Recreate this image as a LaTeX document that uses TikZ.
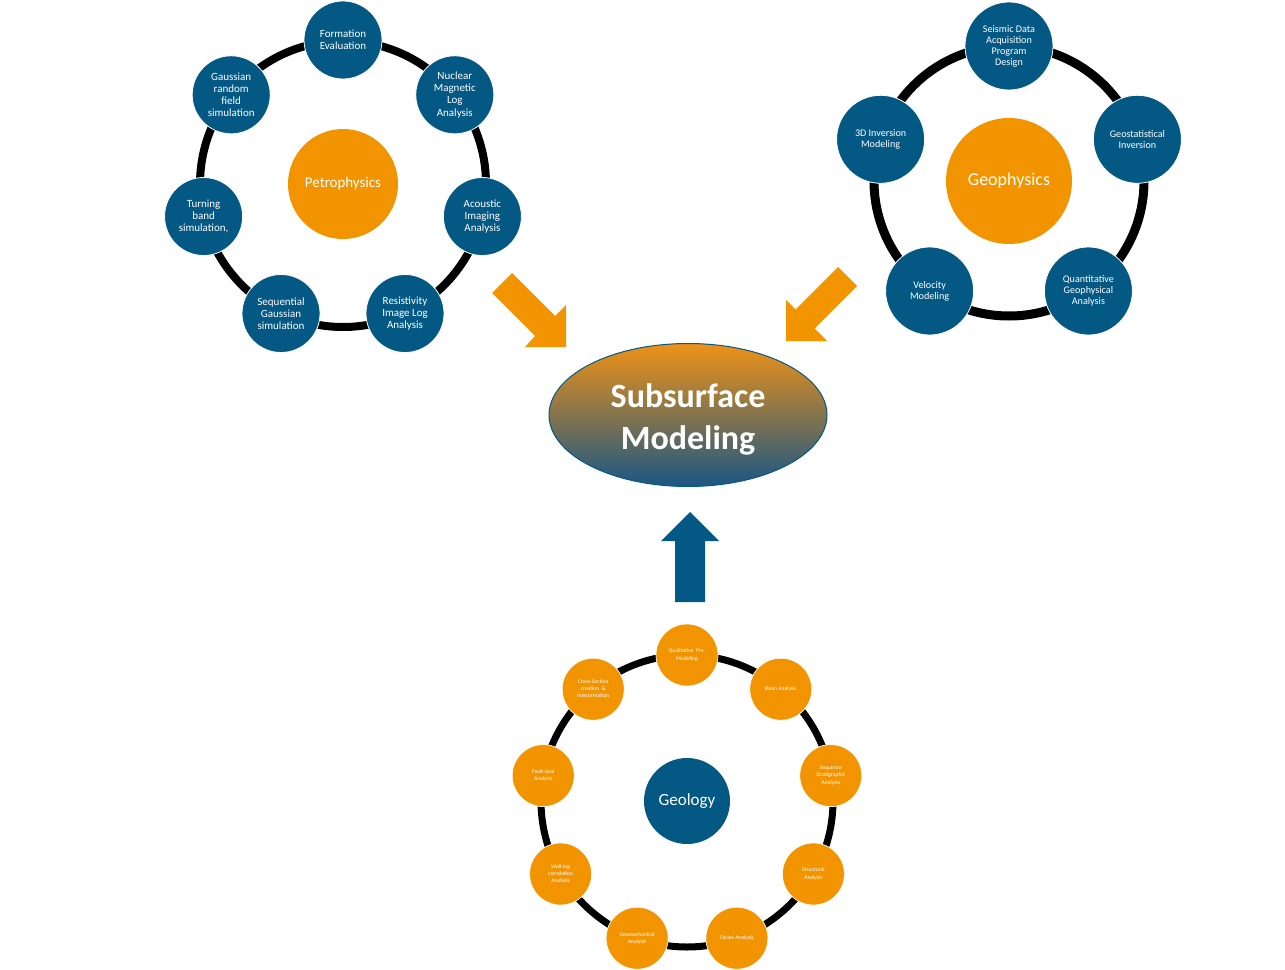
\documentclass[tikz,border=0pt]{standalone}
\usepackage{fontspec}
\setmainfont{Carlito}
\usetikzlibrary{shapes.geometric}
\definecolor{bluec}{RGB}{4,88,132}
\definecolor{orangec}{RGB}{242,148,0}
\definecolor{gradtop}{RGB}{238,146,22}
\definecolor{gradmid}{RGB}{200,126,88}
\definecolor{gradbot}{RGB}{26,86,132}
\begin{document}
\begin{tikzpicture}[x=0.75pt,y=-0.75pt,
  petnode/.style={circle, fill=bluec, draw=white, line width=0.6pt, text=white, minimum size=58.5pt, inner sep=0pt, align=center, font=\fontsize{8.25}{9.2}\selectfont},
  geonode/.style={circle, fill=bluec, draw=white, line width=0.6pt, text=white, minimum size=66pt, inner sep=0pt, align=center, font=\fontsize{7.6}{8.2}\selectfont},
  gelnode/.style={circle, fill=orangec, draw=white, line width=0.5pt, text=white, minimum size=46.5pt, inner sep=0pt, align=center, font=\fontsize{4.2}{5.3}\selectfont},
  hubor/.style={circle, fill=orangec, text=white, inner sep=0pt, align=center},
  hubbl/.style={circle, fill=bluec, text=white, inner sep=0pt, align=center}
]
\useasboundingbox (0,0) rectangle (1285,970);

% ---------- Petrophysics ----------
\coordinate (pc) at (343,184);
\draw[line width=6pt] (pc) circle [radius=143];
\node[hubor, minimum size=82.5pt, font=\fontsize{11.2}{13}\selectfont] (pet) at (pc) {Petrophysics};
\node[petnode] (p1) at (343,40) {Formation\\Evaluation};
\node[petnode] (p2) at (454.8,94.8) {Nuclear\\Magnetic\\Log\\Analysis};
\node[petnode] (p3) at (482.4,216.5) {Acoustic\\Imaging\\Analysis};
\node[petnode] (p4) at (405.0,313.5) {Resistivity\\Image Log\\Analysis};
\node[petnode] (p5) at (281.0,313.5) {Sequential\\Gaussian\\simulation};
\node[petnode] (p6) at (203.6,216.5) {Turning\\band\\simulation,};
\node[petnode] (p7) at (231.2,94.8) {Gaussian\\random\\field\\simulation};

% ---------- Geophysics ----------
\coordinate (gc) at (1009,181);
\draw[line width=6.75pt] (gc) circle [radius=135];
\node[hubor, minimum size=94.5pt, font=\fontsize{13.5}{15}\selectfont] (geo) at (gc) {Geophysics};
\node[geonode] (g1) at (1009,46) {Seismic Data\\Acquisition\\Program\\Design};
\node[geonode] (g2) at (1137.4,139.3) {Geostatistical\\Inversion};
\node[geonode] (g3) at (1088.4,291) {Quantitative\\Geophysical\\Analysis};
\node[geonode] (g4) at (929.6,291) {Velocity\\Modeling};
\node[geonode] (g5) at (880.6,139.3) {3D Inversion\\Modeling};

% ---------- Geology ----------
\coordinate (lc) at (687,801);
\draw[line width=5.25pt] (lc) circle [radius=146];
\node[hubbl, minimum size=64.5pt, font=\fontsize{12.8}{14}\selectfont] (gel) at (lc) {Geology};
\node[gelnode] (l1) at (687,655) {Qualitative\ \ Pre-\\Modeling};
\node[gelnode] (l2) at (780.8,689.2) {Basin Analysis};
\node[gelnode] (l3) at (830.8,775.6) {Sequence\\Stratigraphic\\Analysis};
\node[gelnode] (l4) at (813.4,874) {Structural\\Analysis};
\node[gelnode] (l5) at (736.9,938.2) {Facies Analysis};
\node[gelnode] (l6) at (637.1,938.2) {Geomechanical\\Analysis};
\node[gelnode] (l7) at (560.6,874) {Well-log\\correlation\\Analysis};
\node[gelnode] (l8) at (543.2,775.6) {Fault-Seal\\Analysis};
\node[gelnode] (l9) at (593.2,689.2) {Cross-Section\\creation\ \ \&\\Interpretation};

% ---------- Subsurface Modeling ----------
\node[ellipse, draw=bluec, line width=0.75pt, minimum width=208.5pt, minimum height=107.25pt,
      top color=gradtop, middle color=gradmid, bottom color=gradbot,
      label={[text=white, align=center, yshift=-3pt, font=\bfseries\fontsize{25.5}{31.5}\selectfont]center:Subsurface\\Modeling}] (sub) at (688,415) {};

% ---------- Block arrows ----------
\fill[orangec] (492,293) -- (535,336) -- (525,347) -- (566,347) -- (566,305) -- (555,316) -- (512,273) -- cycle;
\fill[orangec] (838,267) -- (795.5,309.5) -- (786,300) -- (786,341) -- (827,341) -- (814.5,328.5) -- (857,286) -- cycle;
\fill[bluec] (675,602) -- (675,541) -- (661,541) -- (690,512) -- (719,541) -- (705,541) -- (705,602) -- cycle;
\end{tikzpicture}
\end{document}
